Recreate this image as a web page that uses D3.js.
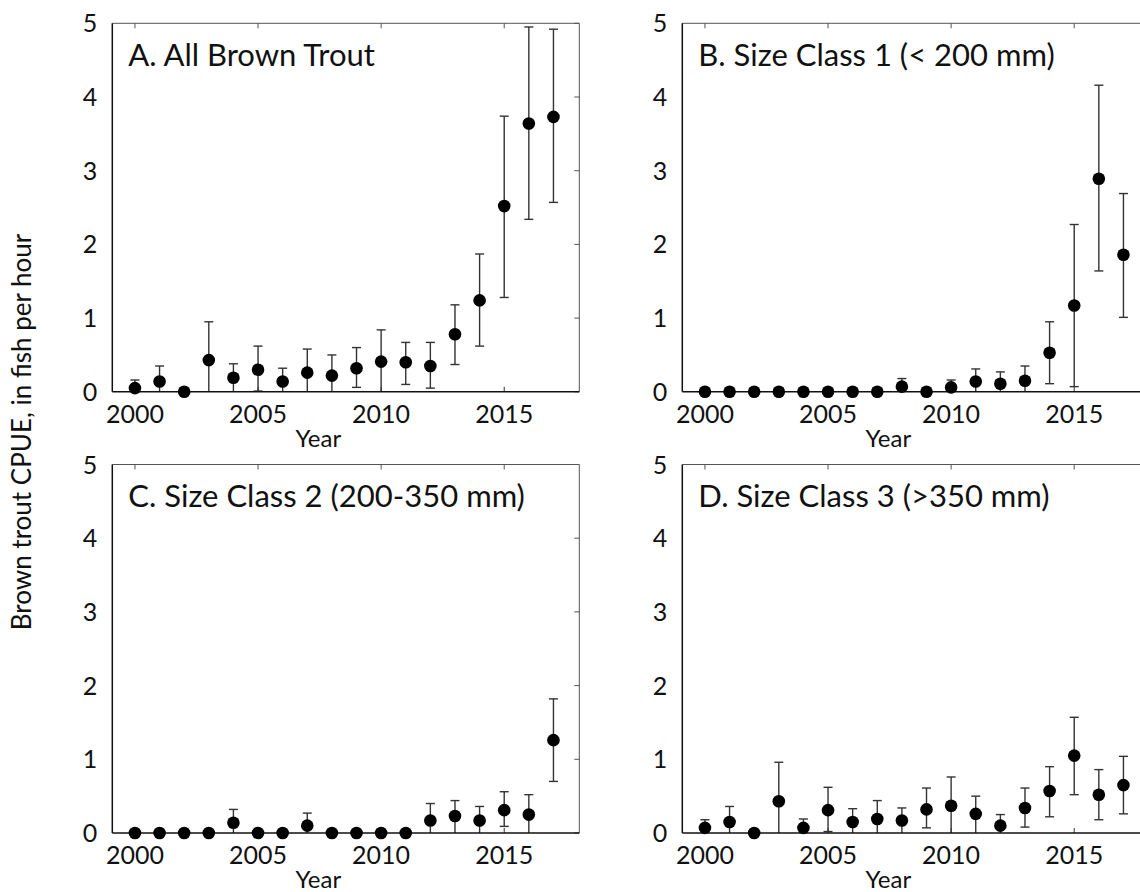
<!DOCTYPE html>
<html>
<head>
<meta charset="utf-8">
<script src="https://cdn.jsdelivr.net/npm/d3@7"></script>
<style>
  body { margin: 0; background: #fff; }
  svg { display: block; font-family: Lato, "Open Sans", sans-serif; }
  .tick-label { font-size: 25px; fill: #111; }
  .title { font-size: 31px; fill: #111; }
  .axis-title { font-size: 24px; fill: #111; }
</style>
</head>
<body>
<svg id="chart" width="1140" height="892"></svg>
<script>
var years = [2000, 2001, 2002, 2003, 2004, 2005, 2006, 2007, 2008, 2009, 2010, 2011, 2012, 2013, 2014, 2015, 2016, 2017];
var yTicks = [0, 1, 2, 3, 4, 5];
var xTicks = [2000, 2005, 2010, 2015];

// A. all brown trout
var allMean = [0.05, 0.14, 0.0, 0.43, 0.19, 0.30, 0.14, 0.26, 0.22, 0.32, 0.41, 0.40, 0.35, 0.78, 1.24, 2.52, 3.64, 3.73];
var allLow  = [0.0, 0.0, 0.0, 0.0, 0.0, 0.01, 0.0, 0.0, 0.0, 0.06, 0.0, 0.10, 0.05, 0.37, 0.62, 1.28, 2.34, 2.57];
var allHigh = [0.16, 0.35, 0.0, 0.95, 0.38, 0.62, 0.32, 0.58, 0.50, 0.60, 0.84, 0.67, 0.67, 1.18, 1.87, 3.74, 4.95, 4.92];

// B. size class 1
var sc1Mean = [0, 0, 0, 0, 0, 0, 0, 0, 0.07, 0, 0.06, 0.14, 0.11, 0.15, 0.53, 1.17, 2.89, 1.86];
var sc1Low  = [0, 0, 0, 0, 0, 0, 0, 0, 0.0, 0, 0.0, 0.0, 0.0, 0.0, 0.11, 0.07, 1.64, 1.01];
var sc1High = [0, 0, 0, 0, 0, 0, 0, 0, 0.18, 0, 0.16, 0.31, 0.27, 0.35, 0.95, 2.27, 4.16, 2.69];

// C. size class 2
var sc2Mean = [0, 0, 0, 0, 0.14, 0, 0, 0.10, 0, 0, 0, 0, 0.17, 0.23, 0.17, 0.31, 0.25, 1.26];
var sc2Low  = [0, 0, 0, 0, 0.0, 0, 0, 0.0, 0, 0, 0, 0, 0.0, 0.0, 0.0, 0.09, 0.0, 0.70];
var sc2High = [0, 0, 0, 0, 0.32, 0, 0, 0.27, 0, 0, 0, 0, 0.40, 0.44, 0.36, 0.56, 0.52, 1.82];

// D. size class 3
var sc3Mean = [0.07, 0.15, 0.0, 0.43, 0.07, 0.31, 0.15, 0.19, 0.17, 0.32, 0.37, 0.26, 0.10, 0.34, 0.57, 1.05, 0.52, 0.65];
var sc3Low  = [0.0, 0.0, 0.0, 0.0, 0.0, 0.02, 0.0, 0.0, 0.0, 0.07, 0.0, 0.0, 0.0, 0.08, 0.22, 0.52, 0.18, 0.26];
var sc3High = [0.18, 0.36, 0.0, 0.96, 0.19, 0.62, 0.33, 0.44, 0.34, 0.61, 0.76, 0.50, 0.25, 0.61, 0.90, 1.57, 0.86, 1.04];

var titles = ["A. All Brown Trout", "B. Size Class 1 (< 200 mm)", "C. Size Class 2 (200-350 mm)", "D. Size Class 3 (>350 mm)"];

var panels = [
  {title: titles[0], mean: allMean, low: allLow, high: allHigh, x: 112.3, y: 23.3},
  {title: titles[1], mean: sc1Mean, low: sc1Low, high: sc1High, x: 682.3, y: 23.3},
  {title: titles[2], mean: sc2Mean, low: sc2Low, high: sc2High, x: 112.3, y: 464.5},
  {title: titles[3], mean: sc3Mean, low: sc3Low, high: sc3High, x: 682.3, y: 464.5}
];

var W = 467, H = 368.5;
var TICK = 5;
var svg = d3.select('#chart');

var x = d3.scaleLinear().domain([1999.08, 2018.05]).range([0, W]);
var y = d3.scaleLinear().domain([0, 5]).range([H, 0]);

panels.forEach(function(p) {
  var g = svg.append('g').attr('transform', 'translate(' + p.x + ',' + p.y + ')');

  // frame: top and right lighter
  g.append('line').attr('x1', 0).attr('x2', W).attr('y1', 0).attr('y2', 0).attr('stroke', '#555').attr('stroke-width', 1);
  g.append('line').attr('x1', W).attr('x2', W).attr('y1', 0).attr('y2', H).attr('stroke', '#555').attr('stroke-width', 1);

  // inward ticks on top, bottom and right
  xTicks.forEach(function(t) {
    g.append('line').attr('x1', x(t)).attr('x2', x(t)).attr('y1', 0).attr('y2', TICK).attr('stroke', '#555');
    g.append('line').attr('x1', x(t)).attr('x2', x(t)).attr('y1', H).attr('y2', H - TICK).attr('stroke', '#333');
  });
  yTicks.forEach(function(t) {
    g.append('line').attr('x1', W).attr('x2', W - TICK).attr('y1', y(t)).attr('y2', y(t)).attr('stroke', '#555');
  });

  // tick labels
  g.selectAll('.ylab').data(yTicks).enter().append('text')
    .attr('class', 'tick-label')
    .attr('x', -15).attr('y', function(d){ return y(d); })
    .attr('dy', '0.36em')
    .attr('text-anchor', 'end')
    .text(function(d){ return d; });
  g.selectAll('.xlab').data(xTicks).enter().append('text')
    .attr('class', 'tick-label')
    .attr('x', function(d){ return x(d); }).attr('y', H + 31)
    .attr('text-anchor', 'middle')
    .text(function(d){ return d; });

  g.append('text').attr('class', 'axis-title')
    .attr('x', 206).attr('y', H + 55)
    .attr('text-anchor', 'middle')
    .text('Year');

  g.append('text').attr('class', 'title')
    .attr('x', 16).attr('y', 42.5)
    .text(p.title);

  var pts = years.map(function(yr, i) {
    return {year: yr, mean: p.mean[i], low: p.low[i], high: p.high[i]};
  });

  // error bars
  var bars = g.selectAll('.err').data(pts.filter(function(d){ return d.high > d.low; }))
    .enter().append('g').attr('class', 'err').attr('stroke', '#333').attr('stroke-width', 1.4);
  bars.append('line')
    .attr('x1', function(d){ return x(d.year); }).attr('x2', function(d){ return x(d.year); })
    .attr('y1', function(d){ return y(d.low); }).attr('y2', function(d){ return y(d.high); });
  bars.append('line')
    .attr('x1', function(d){ return x(d.year) - 4.5; }).attr('x2', function(d){ return x(d.year) + 4.5; })
    .attr('y1', function(d){ return y(d.high); }).attr('y2', function(d){ return y(d.high); });
  bars.filter(function(d){ return d.low > 0; }).append('line')
    .attr('x1', function(d){ return x(d.year) - 4.5; }).attr('x2', function(d){ return x(d.year) + 4.5; })
    .attr('y1', function(d){ return y(d.low); }).attr('y2', function(d){ return y(d.low); });

  // left and bottom axes
  g.append('line').attr('x1', 0).attr('x2', 0).attr('y1', 0).attr('y2', H).attr('stroke', '#111').attr('stroke-width', 1.5);
  g.append('line').attr('x1', 0).attr('x2', W).attr('y1', H).attr('y2', H).attr('stroke', '#111').attr('stroke-width', 1.5);

  // points
  g.selectAll('.pt').data(pts).enter().append('circle')
    .attr('cx', function(d){ return x(d.year); })
    .attr('cy', function(d){ return y(d.mean); })
    .attr('r', 6.3)
    .attr('fill', '#000');
});

svg.append('text').attr('class', 'axis-title')
  .attr('transform', 'translate(31,432) rotate(-90)')
  .attr('text-anchor', 'middle')
  .style('font-size', '26px')
  .text('Brown trout CPUE, in fish per hour');
</script>
</body>
</html>
